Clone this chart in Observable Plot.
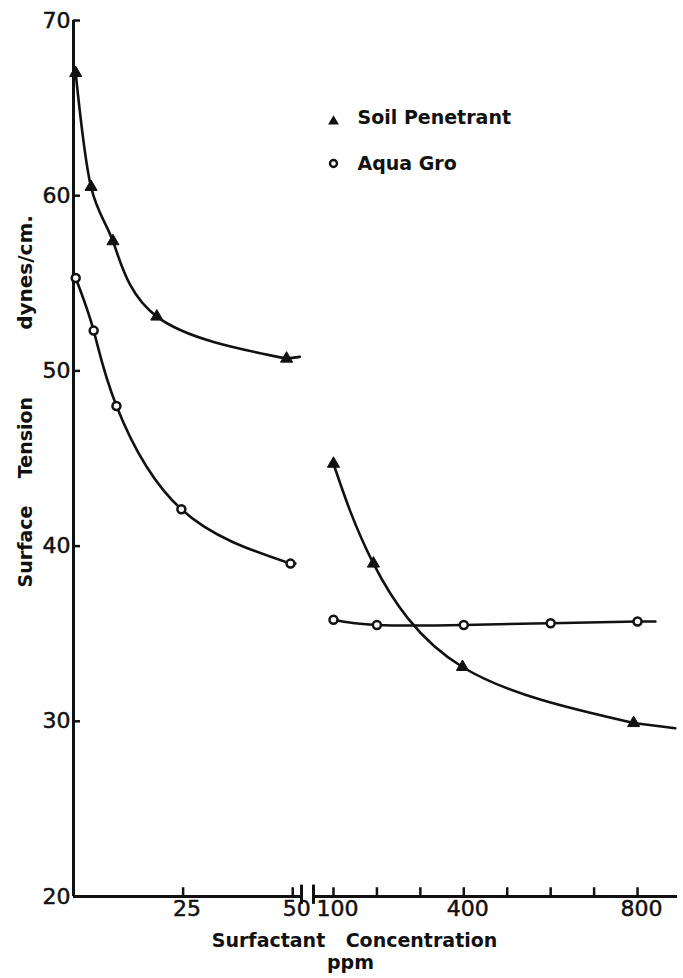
<!DOCTYPE html>
<html>
<head>
<meta charset="utf-8">
<script src="https://cdn.jsdelivr.net/npm/d3@7"></script>
<script src="https://cdn.jsdelivr.net/npm/@observablehq/plot@0.6"></script>
<style>
  html, body { margin: 0; padding: 0; background: #fff; }
  #chart svg { display: block; }
</style>
</head>
<body>
<div id="chart"></div>
<script>
// ---- data ----
const soilLeftX  = [0.5, 4, 9, 19, 48.6];
const soilLeftY  = [67.0, 60.5, 57.4, 53.1, 50.7];
const aquaLeftX  = [0.5, 4.6, 9.8, 24.6, 49.5];
const aquaLeftY  = [55.3, 52.3, 48.0, 42.1, 39.0];
const soilRightX = [100, 192, 397, 791];
const soilRightY = [44.7, 39.0, 33.1, 29.9];
const aquaRightX = [100, 200, 400, 600, 800];
const aquaRightY = [35.8, 35.5, 35.5, 35.6, 35.7];
// traced curve ends (curve continues a little past last marker)
const soilLeftEnd  = [51.6, 50.8];
const aquaLeftEnd  = [50.6, 39.0];
const soilRightEnd = [887, 29.6];
const aquaRightEnd = [841, 35.7];

const yTicks = [20, 30, 40, 50, 60, 70];
const xTicksLeft = [25, 50];
const xTicksRight = [100, 200, 300, 400, 500, 600, 700, 800];
const xLabels = [25, 50, 100, 400, 800];
const seriesNames = ["Soil Penetrant", "Aqua Gro"];
const xBreak = [52, 54];      // axis break (left segment end, right segment start)
const xAxisEnd = 892;

// ---- build tables ----
const pts = (xs, ys) => xs.map((x, i) => ({x, y: ys[i]}));
const soilL = pts(soilLeftX, soilLeftY);
const aquaL = pts(aquaLeftX, aquaLeftY);
const soilR = pts(soilRightX, soilRightY);
const aquaR = pts(aquaRightX, aquaRightY);
const tail = (arr, end) => [arr[arr.length - 1], {x: end[0], y: end[1]}];

const ink = "#111";
const font = "DejaVu Sans, sans-serif";
const label = (txt, dx, dy, extra = {}) =>
  Plot.text([txt], {frameAnchor: "top-left", dx, dy, text: d => d, textAnchor: "middle", lineAnchor: "middle",
                    fontSize: 19, fontWeight: "bold", fill: ink, ...extra});
const curve = (arr, end) => [
  Plot.line(arr, {x: "x", y: "y", curve: "natural", stroke: ink, strokeWidth: 2.6}),
  Plot.line(tail(arr, end), {x: "x", y: "y", curve: "linear", stroke: ink, strokeWidth: 2.6, strokeLinecap: "round"})
];

const chart = Plot.plot({
  width: 683,
  height: 978,
  marginLeft: 0, marginRight: 0, marginTop: 0, marginBottom: 0,
  x: {type: "linear", domain: [0, xBreak[0], xBreak[1], xAxisEnd], range: [73, 301, 313, 677], axis: null},
  y: {type: "linear", domain: [20, 70], range: [896, 20], axis: null},
  style: {fontFamily: font, background: "#fff", color: ink, overflow: "visible"},
  marks: [
    // y axis
    Plot.ruleX([0], {y1: 20, y2: 70, stroke: ink, strokeWidth: 3}),
    Plot.ruleY(yTicks.filter(d => d > 20), {x1: 0, x2: 1.6, stroke: ink, strokeWidth: 2.5}),
    Plot.text(yTicks, {x: 0, y: d => d, text: d => String(d), textAnchor: "end", dx: -3, fontSize: 22, fill: ink, stroke: ink, strokeWidth: 0.5}),
    // x axis left segment
    Plot.ruleY([20], {x1: 0, x2: xBreak[0], stroke: ink, strokeWidth: 3}),
    Plot.ruleX(xTicksLeft, {y1: 20, y2: 20.5, stroke: ink, strokeWidth: 2.5}),
    // x axis right segment
    Plot.ruleY([20], {x1: xBreak[1], x2: xAxisEnd, stroke: ink, strokeWidth: 3}),
    Plot.ruleX(xTicksRight, {y1: 20, y2: 20.5, stroke: ink, strokeWidth: 2.5}),
    // break marks
    Plot.ruleX(xBreak, {y1: 19.55, y2: 20.65, stroke: ink, strokeWidth: 3}),
    Plot.text(xLabels, {x: d => d, y: 20, text: d => String(d), dx: 4, dy: 4, lineAnchor: "top", fontSize: 22, fill: ink, stroke: ink, strokeWidth: 0.5}),
    // smooth curves
    ...curve(soilL, soilLeftEnd),
    ...curve(aquaL, aquaLeftEnd),
    ...curve(soilR, soilRightEnd),
    ...curve(aquaR, aquaRightEnd),
    // markers
    Plot.dot(soilL.concat(soilR), {x: "x", y: "y", symbol: "triangle", r: 4.5, fill: ink, stroke: ink, strokeWidth: 1}),
    Plot.dot(aquaL.concat(aquaR), {x: "x", y: "y", symbol: "circle", r: 4, fill: "#fff", stroke: ink, strokeWidth: 2.5}),
    // legend
    Plot.dot([seriesNames[0]], {frameAnchor: "top-left", dx: 333, dy: 121, symbol: "triangle", r: 4, fill: ink}),
    Plot.dot([seriesNames[1]], {frameAnchor: "top-left", dx: 333, dy: 163, symbol: "circle", r: 3.5, fill: "#fff", stroke: ink, strokeWidth: 2.4}),
    label(seriesNames[0], 357, 117, {textAnchor: "start"}),
    label(seriesNames[1], 357, 163, {textAnchor: "start"}),
    // axis titles
    label("Surfactant", 268, 940),
    label("Concentration", 421, 940),
    label("ppm", 350, 962),
    label("Surface", 25, 546, {rotate: -90}),
    label("Tension", 25, 437, {rotate: -90}),
    label("dynes/cm.", 25, 272, {rotate: -90, fontSize: 20})
  ]
});
document.getElementById("chart").appendChild(chart);
</script>
</body>
</html>
